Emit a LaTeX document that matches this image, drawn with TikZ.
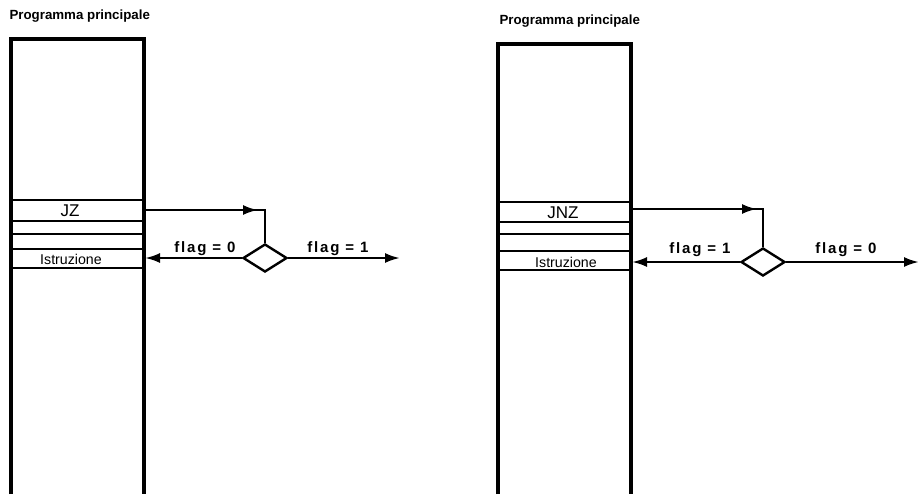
\documentclass[tikz,border=0pt]{standalone}
\usepackage{fontspec}
\setmainfont{Liberation Sans}
\newfontfamily\flagfont[LetterSpace=12]{Liberation Sans}
\usetikzlibrary{shapes.geometric,arrows.meta}

\begin{document}
\begin{tikzpicture}[x=1pt,y=-1pt,
  mem/.style={line width=3.4pt},
  cell/.style={line width=1.2pt},
  flow/.style={line width=2.4pt},
  tip/.style={-{Latex[length=15pt,width=10pt]}},
  test/.style={diamond,draw,line width=2.4pt,minimum width=44pt,minimum height=28pt,inner sep=0pt},
  title/.style={font=\fontsize{13.3}{15}\selectfont\bfseries,anchor=west},
  word/.style={font=\fontsize{14.2}{16}\selectfont},
  op/.style={font=\fontsize{17}{19}\selectfont},
  flag/.style={font=\flagfont\fontsize{15}{17}\selectfont\bfseries,anchor=base}]
\useasboundingbox (0,0) rectangle (920,496);

% left: JZ
\node[title] (t1) at (6,16) {Programma principale};
\draw[mem] (11,494) -- (11,39) -- (144,39) -- (144,494);
\draw[cell] (11,200) -- (144,200);
\draw[cell] (11,221) -- (144,221);
\draw[cell] (11,234) -- (144,234);
\draw[cell] (11,249) -- (144,249);
\draw[cell] (11,268) -- (144,268);
\node[op] (jz) at (70,211) {JZ};
\node[word] (i1) at (71,259) {Istruzione};

\coordinate (o1) at (145,210);
\coordinate (a1) at (258,210);
\coordinate (c1) at (265,210);
\node[test] (d1) at (265,258) {};
\coordinate (e1) at (400,258);
\coordinate (r1) at (145,258);
\draw[flow] (o1) -- (c1) -- (d1.north);
\draw[flow,tip] (o1) -- (a1);
\draw[flow,tip] (d1.west) -- (r1);
\draw[flow,tip] (d1.east) -- (e1);
\node[flag] (f10) at (205,252) {flag = 0};
\node[flag] (f11) at (338,252) {flag = 1};

% right: JNZ
\node[title] (t2) at (496,21) {Programma principale};
\draw[mem] (498,494) -- (498,44) -- (631,44) -- (631,494);
\draw[cell] (498,202) -- (631,202);
\draw[cell] (498,222) -- (631,222);
\draw[cell] (498,234) -- (631,234);
\draw[cell] (498,251) -- (631,251);
\draw[cell] (498,270) -- (631,270);
\node[op] (jnz) at (563,213) {JNZ};
\node[word] (i2) at (566,262) {Istruzione};

\coordinate (o2) at (632,209);
\coordinate (a2) at (757,209);
\coordinate (c2) at (763,209);
\node[test] (d2) at (763,262) {};
\coordinate (e2) at (919,262);
\coordinate (r2) at (632,262);
\draw[flow] (o2) -- (c2) -- (d2.north);
\draw[flow,tip] (o2) -- (a2);
\draw[flow,tip] (d2.west) -- (r2);
\draw[flow,tip] (d2.east) -- (e2);
\node[flag] (f21) at (700,253) {flag = 1};
\node[flag] (f20) at (846,253) {flag = 0};
\end{tikzpicture}
\end{document}
